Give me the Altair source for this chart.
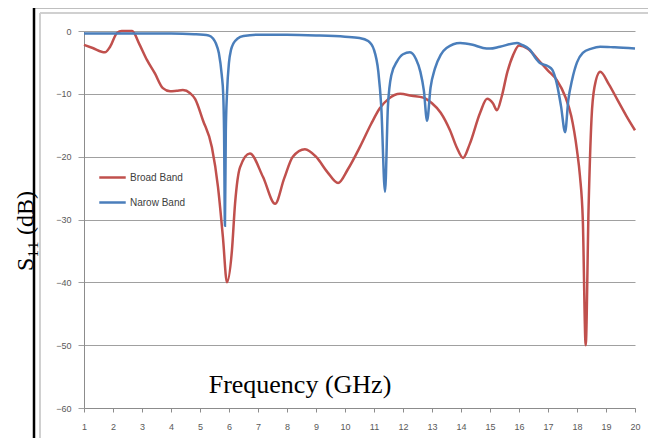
import altair as alt
import pandas as pd

# ---- data ----
freq_broad = [1.0, 1.3, 1.72, 1.9, 2.14, 2.3, 2.66, 2.9, 3.17, 3.45, 3.72, 3.97, 4.2, 4.41,
              4.66, 4.83, 5.1, 5.41, 5.62, 5.79, 5.93, 6.1, 6.21, 6.38, 6.72, 7.17, 7.59,
              7.9, 8.2, 8.62, 9.0, 9.4, 9.76, 10.1, 10.52, 10.9, 11.2, 11.5, 11.9, 12.3,
              12.7, 13.0, 13.3, 13.62, 13.85, 14.07, 14.3, 14.66, 14.9, 15.1, 15.24, 15.4,
              15.6, 15.8, 16.0, 16.3, 16.7, 17.0, 17.3, 17.6, 17.8, 18.0, 18.1, 18.2, 18.3,
              18.4, 18.5, 18.6, 18.8, 19.1, 19.4, 19.7, 20.0]
s11_broad = [-2.2, -2.7, -3.4, -2.5, -0.3, 0.0, 0.0, -2.0, -4.6, -6.8, -9.1, -9.6, -9.5, -9.4,
             -9.9, -10.8, -14.2, -18.5, -24.8, -32.8, -40.0, -35.0, -27.4, -21.7, -19.5, -23.2, -27.5,
             -23.5, -20.0, -18.8, -20.0, -22.5, -24.2, -22.0, -18.4, -14.8, -12.3, -10.8, -10.0, -10.3,
             -10.6, -11.5, -13.0, -15.8, -18.5, -20.2, -18.0, -13.0, -10.8, -11.5, -12.6, -10.5,
             -6.5, -3.8, -2.3, -2.8, -4.8, -6.3, -7.8, -10.5, -13.5, -19.0, -23.0, -30.0, -50.0,
             -28.0, -14.0, -9.0, -6.5, -8.5, -11.0, -13.5, -15.8]

freq_narrow = [1.0, 2.0, 3.0, 4.0, 4.8, 5.3, 5.45, 5.55, 5.65, 5.75, 5.8, 5.83, 5.86, 5.89,
               5.93, 6.0, 6.07, 6.15, 6.3, 6.5, 7.0, 8.0, 9.0, 10.0, 10.5, 10.8, 11.0, 11.15,
               11.25, 11.38, 11.48, 11.6, 11.8, 12.0, 12.24, 12.45, 12.6, 12.72, 12.83, 12.95,
               13.1, 13.3, 13.5, 13.97, 14.4, 14.76, 15.0, 15.34, 15.93, 16.1, 16.38, 16.6,
               16.72, 17.0, 17.15, 17.3, 17.45, 17.59, 17.7, 17.83, 18.0, 18.2, 18.5, 18.8,
               19.3, 20.0]
s11_narrow = [-0.4, -0.4, -0.4, -0.4, -0.5, -0.7, -1.2, -2.0, -3.5, -7.0, -10.0, -16.0, -31.0, -16.0,
              -10.0, -5.0, -3.0, -2.0, -1.2, -0.8, -0.6, -0.6, -0.7, -0.9, -1.1, -1.6, -3.0, -6.5,
              -12.0, -25.6, -12.0, -7.0, -4.8, -3.7, -3.4, -4.5, -6.5, -9.5, -14.3, -9.0,
              -6.0, -3.8, -2.7, -1.9, -2.2, -2.7, -2.8, -2.5, -1.9, -2.2, -3.0, -4.5,
              -5.1, -5.6, -6.2, -8.3, -12.0, -16.1, -11.0, -7.8, -5.0, -3.5, -2.8, -2.5,
              -2.6, -2.8]

series_names = ["Broad Band", "Narow Band"]
series_colors = ["#c0504d", "#4a7ebb"]
x_ticks = list(range(1, 21))
y_ticks = [-60, -50, -40, -30, -20, -10, 0]
x_title = "Frequency (GHz)"
y_title = "S\u2081\u2081 (dB)"

df = pd.concat([
    pd.DataFrame({"freq": freq_broad, "s11": s11_broad, "series": series_names[0]}),
    pd.DataFrame({"freq": freq_narrow, "s11": s11_narrow, "series": series_names[1]}),
], ignore_index=True)

W, H = 551, 377

lines = alt.Chart(df).mark_line(interpolate="monotone", strokeWidth=2.5).encode(
    x=alt.X("freq:Q",
            scale=alt.Scale(domain=[1, 20], nice=False, zero=False),
            axis=alt.Axis(values=x_ticks, title=None, grid=False, tickSize=4,
                          labelPadding=10, labelFontSize=9, labelColor="#595959",
                          labelFont="Liberation Sans", domainColor="#8c8c8c",
                          tickColor="#8c8c8c", labelFlush=False)),
    y=alt.Y("s11:Q",
            scale=alt.Scale(domain=[-60, 0], nice=False, zero=False),
            axis=alt.Axis(values=y_ticks, title=None, grid=True, gridColor="#a0a0a0",
                          tickSize=6, labelPadding=7, labelFontSize=9, labelColor="#595959",
                          labelFont="Liberation Sans", domainColor="#8c8c8c",
                          tickColor="#a0a0a0")),
    color=alt.Color("series:N",
                    scale=alt.Scale(domain=series_names, range=series_colors),
                    legend=alt.Legend(orient="none", legendX=14, legendY=132, title=None,
                                      symbolType="stroke", symbolStrokeWidth=2.5,
                                      symbolSize=700, labelFontSize=10,
                                      labelColor="#404040", labelFont="Liberation Sans",
                                      labelOffset=3, rowPadding=5)),
)

xlab = alt.Chart(alt.Data(values=[{"t": x_title}])).mark_text(
    font="Liberation Serif", fontSize=26, align="center", baseline="alphabetic", color="black"
).encode(text="t:N", x=alt.value(216), y=alt.value(362))

ylab = alt.Chart(alt.Data(values=[{"t": y_title}])).mark_text(
    font="Liberation Serif", fontSize=24, align="center", baseline="alphabetic", angle=270,
    color="black"
).encode(text="t:N", x=alt.value(-51), y=alt.value(200))

frame_src = alt.Data(values=[{"k": 1}])
gray_left = alt.Chart(frame_src).mark_rule(color="#d0d0d0", strokeWidth=2).encode(
    x=alt.value(-44), y=alt.value(-18), y2=alt.value(420))
gray_top = alt.Chart(frame_src).mark_rule(color="#d0d0d0", strokeWidth=2).encode(
    x=alt.value(-44), x2=alt.value(600), y=alt.value(-18))
black_left = alt.Chart(frame_src).mark_rule(color="black", strokeWidth=2.5).encode(
    x=alt.value(-50), y=alt.value(-25), y2=alt.value(420))
black_top = alt.Chart(frame_src).mark_rule(color="black", strokeWidth=2.5).encode(
    x=alt.value(-51), x2=alt.value(600), y=alt.value(-24))

chart = alt.layer(gray_left, gray_top, lines, black_left, black_top, xlab, ylab).properties(
    width=W, height=H,
    autosize=alt.AutoSizeParams(type="none"),
    padding={"left": 76, "top": 23, "right": 13, "bottom": 30},
    background="white",
).configure_view(stroke=None)

chart.save("out.html", embed_options={"renderer": "svg", "actions": False})
